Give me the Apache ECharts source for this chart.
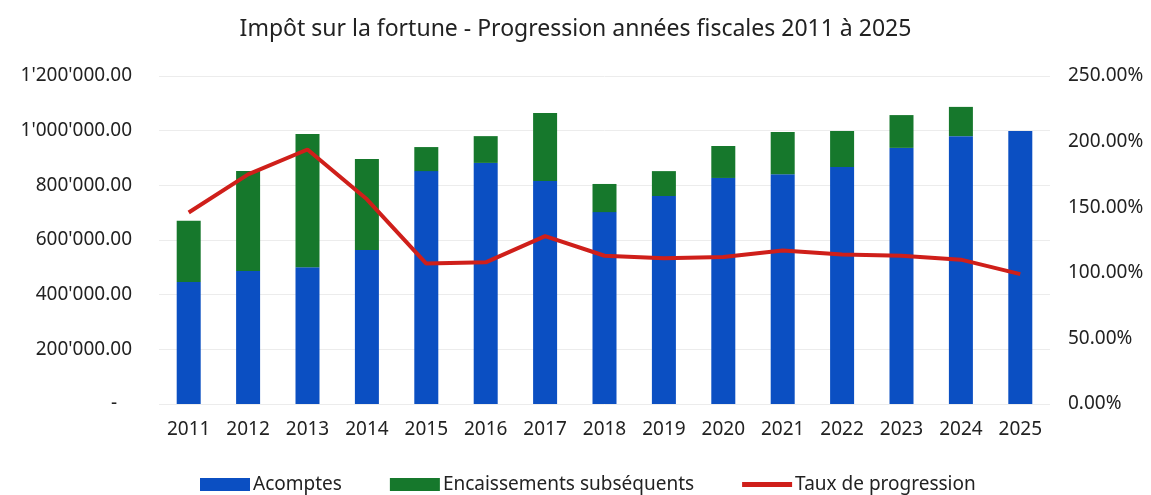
<!DOCTYPE html>
<html>
<head>
<meta charset="utf-8">
<script src="https://cdn.jsdelivr.net/npm/echarts@6/dist/echarts.min.js"></script>
<style>
html, body { margin: 0; padding: 0; background: #fff; }
#chart { width: 1151px; height: 495px; }
</style>
</head>
<body>
<div id="chart"></div>
<script>
// données
var annees = ['2011','2012','2013','2014','2015','2016','2017','2018','2019','2020','2021','2022','2023','2024','2025'];
var acomptes = [446000, 487000, 500000, 563000, 852000, 882000, 816000, 702000, 761000, 827000, 841000, 867000, 937000, 980000, 999000];
var encaissements = [224000, 365000, 488000, 333000, 88000, 98000, 249000, 103000, 91000, 117000, 154000, 132000, 120000, 107000, 0];
var taux = [146, 175, 194, 156, 107, 108, 128, 113, 111, 112, 117, 114, 113, 110, 99];

var chart = echarts.init(document.getElementById('chart'));

function formatMontant(v) {
    // format comptable : tiret pour zéro
    if (v === 0) return '-\u00a0\u00a0\u00a0';
    var s = String(Math.round(v));
    s = s.replace(/\B(?=(\d{3})+(?!\d))/g, "'");
    return s + '.00';
}

var police = 'Noto Sans';

var option = {
    animation: false,
    title: {
        text: 'Impôt sur la fortune - Progression années fiscales 2011 à 2025',
        left: 'center',
        top: 13,
        textStyle: { fontFamily: police, fontSize: 23, fontWeight: 'normal', color: '#222' }
    },
    legend: {
        bottom: -4,
        left: 195,
        itemWidth: 50,
        itemHeight: 13,
        itemGap: 48,
        textStyle: { fontFamily: police, fontSize: 19, color: '#222', padding: [0, 0, 0, -2] },
        data: [
            { name: 'Acomptes', icon: 'rect' },
            { name: 'Encaissements subséquents', icon: 'rect' },
            { name: 'Taux de progression', icon: 'path://M0,0 H50 V5 H0 Z', itemStyle: { color: '#cf1f1a' } }
        ]
    },
    grid: {
        left: 159,
        right: 101,
        top: 76,
        bottom: 91
    },
    xAxis: {
        type: 'category',
        data: annees,
        axisLine: { show: false },
        axisTick: { show: false },
        axisLabel: { fontFamily: police, fontSize: 19, color: '#222', margin: 16 }
    },
    yAxis: [{
        type: 'value',
        min: 0,
        max: 1200000,
        interval: 200000,
        axisLabel: { fontFamily: police, fontSize: 19, color: '#222', margin: 27, formatter: formatMontant },
        splitLine: { lineStyle: { color: '#ececec', width: 1 } }
    }, {
        type: 'value',
        min: 0,
        max: 250,
        interval: 50,
        axisLabel: { fontFamily: police, fontSize: 19, color: '#222', margin: 18, formatter: function (v) { return v.toFixed(2) + '%'; } },
        splitLine: { show: false }
    }],
    series: [{
        name: 'Acomptes',
        type: 'bar',
        stack: 'total',
        barWidth: 24,
        itemStyle: { color: '#0b4fc2' },
        data: acomptes
    }, {
        name: 'Encaissements subséquents',
        type: 'bar',
        stack: 'total',
        barWidth: 24,
        itemStyle: { color: '#16782c' },
        data: encaissements
    }, {
        name: 'Taux de progression',
        type: 'line',
        yAxisIndex: 1,
        symbol: 'none',
        lineStyle: { color: '#cf1f1a', width: 4 },
        itemStyle: { color: '#cf1f1a' },
        data: taux
    }]
};
chart.setOption(option);
</script>
</body>
</html>
